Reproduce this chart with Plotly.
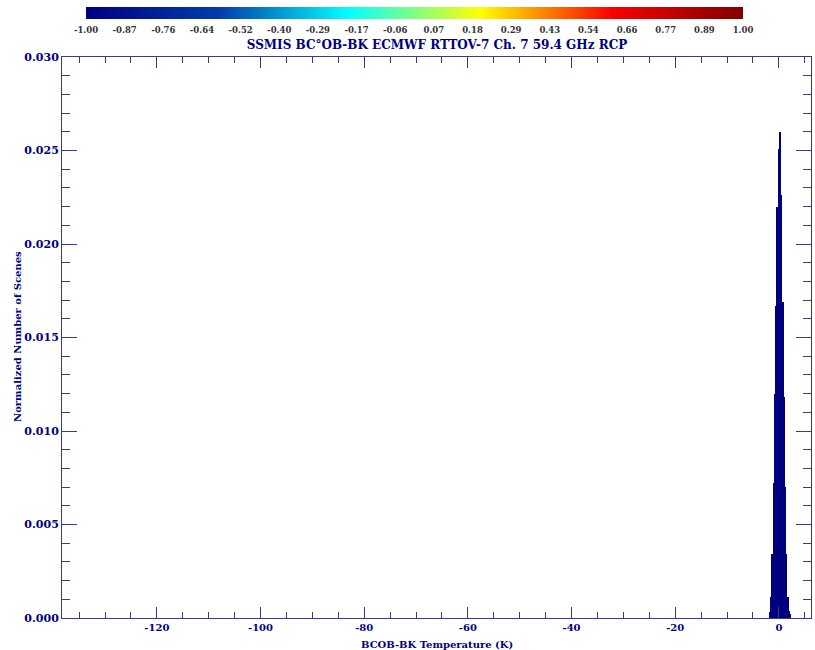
import plotly.graph_objects as go

# Histogram bins (K) and normalized counts
bin_centers = [-1.75, -1.5, -1.25, -1.0, -0.75, -0.5, -0.25, 0.0, 0.25, 0.5, 0.75, 1.0, 1.25, 1.5, 1.75, 2.0, 2.25]
norm_counts = [0.0003, 0.0011, 0.0034, 0.0072, 0.0120, 0.0167, 0.0220, 0.0251, 0.0260, 0.0226, 0.0169, 0.0118, 0.0070, 0.0034, 0.0011, 0.0004, 0.0002]
bin_width = 0.25

# Axis ticks
x_tickvals = [-120, -100, -80, -60, -40, -20, 0]
x_ticktext = ["-120", "-100", "-80", "-60", "-40", "-20", "0"]
y_tickvals = [0.000, 0.005, 0.010, 0.015, 0.020, 0.025, 0.030]
y_ticktext = ["0.000", "0.005", "0.010", "0.015", "0.020", "0.025", "0.030"]

# Colour-bar levels and labels
cbar_vals = [-1.0, -0.8824, -0.7647, -0.6471, -0.5294, -0.4118, -0.2941, -0.1765, -0.0588,
             0.0588, 0.1765, 0.2941, 0.4118, 0.5294, 0.6471, 0.7647, 0.8824, 1.0]
cbar_text = ["-1.00", "-0.87", "-0.76", "-0.64", "-0.52", "-0.40", "-0.29", "-0.17", "-0.06",
             "0.07", "0.18", "0.29", "0.43", "0.54", "0.66", "0.77", "0.89", "1.00"]

x_range = [-138.3, 6.2]
y_range = [0.0, 0.030]

W, H = 815, 650
NAVY = "#00007f"
AX = "#3a3a88"
FONT = "DejaVu Serif"

fig = go.Figure()
fig.add_trace(go.Bar(x=bin_centers, y=norm_counts, width=bin_width,
                     marker=dict(color=NAVY, line=dict(width=0)), showlegend=False,
                     xaxis="x", yaxis="y"))

fig.add_trace(go.Heatmap(x=cbar_vals, y=[0], z=[cbar_vals], colorscale="Jet", zmin=-1, zmax=1,
                         zsmooth="best", showscale=False, hoverinfo="skip",
                         xaxis="x2", yaxis="y2"))

fig.update_layout(
    width=W, height=H,
    margin=dict(l=0, r=0, t=0, b=0),
    paper_bgcolor="white", plot_bgcolor="white",
    bargap=0,
    showlegend=False,
    title=dict(text="SSMIS BC°OB-BK ECMWF RTTOV-7 Ch. 7 59.4 GHz RCP",
               x=437 / W, xanchor="center", y=1 - 45 / H, yanchor="middle",
               font=dict(family=FONT, size=12, color=NAVY, weight="bold")),
    font=dict(family=FONT, color=NAVY),
    xaxis=dict(
        domain=[62 / W, 811 / W], anchor="y",
        range=x_range, tickmode="array", tickvals=x_tickvals, ticktext=x_ticktext,
        ticks="inside", ticklen=11, tickwidth=1, tickcolor=AX,
        minor=dict(dtick=5, tick0=0, ticklen=6, ticks="inside", tickcolor=AX),
        showline=True, linecolor=AX, linewidth=1, mirror="ticks",
        showgrid=False, zeroline=False, automargin=False,
        tickfont=dict(family=FONT, size=10, color=NAVY, weight="bold"),
    ),
    yaxis=dict(
        domain=[1 - 618 / H, 1 - 57 / H], anchor="x",
        range=y_range, tickmode="array", tickvals=y_tickvals, ticktext=y_ticktext,
        ticks="inside", ticklen=15, tickwidth=1, tickcolor=AX,
        minor=dict(dtick=0.001, tick0=0, ticklen=8, ticks="inside", tickcolor=AX),
        showline=True, linecolor=AX, linewidth=1, mirror="ticks",
        showgrid=False, zeroline=False, automargin=False,
        tickfont=dict(family=FONT, size=11, color=NAVY, weight="bold"),
    ),
    xaxis2=dict(
        domain=[86 / W, 743 / W], anchor="y2", range=[-1, 1],
        tickmode="array", tickvals=cbar_vals, ticktext=cbar_text, ticks="",
        ticklabelstandoff=4,
        showline=False, showgrid=False, zeroline=False, automargin=False,
        tickfont=dict(family=FONT, size=8.5, color="#333333", weight="bold"),
    ),
    yaxis2=dict(
        domain=[1 - 19 / H, 1 - 7 / H], anchor="x2", range=[-0.5, 0.5],
        showticklabels=False, ticks="", showline=False, showgrid=False, zeroline=False,
        automargin=False,
    ),
    annotations=[
        dict(text="BCOB-BK Temperature (K)", xref="paper", yref="paper",
             x=437 / W, y=1 - 644 / H, xanchor="center", yanchor="middle", showarrow=False,
             font=dict(family=FONT, size=10, color=NAVY, weight="bold")),
        dict(text="Normalized Number of Scenes", xref="paper", yref="paper",
             x=17 / W, y=1 - 337 / H, xanchor="center", yanchor="middle", showarrow=False,
             textangle=-90,
             font=dict(family=FONT, size=10, color=NAVY, weight="bold")),
    ],
)

fig.write_html("out.html", config={"displayModeBar": False},
               post_script="document.body.style.margin='0';document.body.style.overflow='hidden';")
